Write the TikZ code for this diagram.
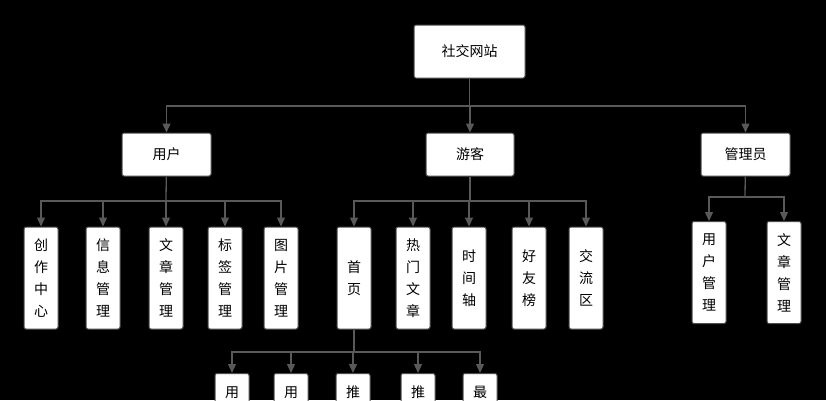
\documentclass[tikz,border=0pt]{standalone}
\usepackage{fontspec}
\setmainfont{Noto Sans CJK SC}
\usetikzlibrary{arrows.meta}
\begin{document}
\begin{tikzpicture}[x=1pt,y=-1pt,>={Triangle[length=9pt,width=8pt]},
    box/.style={draw=black!70,fill=white,rounded corners=2pt,line width=1pt,font=\fontsize{14}{22}\selectfont},
    vbox/.style={box,minimum width=34pt,minimum height=102pt,align=center,inner sep=0pt},
    cutbox/.style={vbox,anchor=north,text height=24pt,text depth=78pt},
    link/.style={draw=black!65,line width=1.3pt}]
    \fill[black] (0,0) rectangle (826,400);
    \clip (0,0) rectangle (826,400);
    % root and second level
    \node[box,minimum width=111pt,minimum height=53pt] (site) at (469.5,51.5) {社交网站};
    \node[box,minimum width=89pt,minimum height=43pt] (user) at (166.5,154.5) {用户};
    \node[box,minimum width=88pt,minimum height=43pt] (guest) at (470,154.5) {游客};
    \node[box,minimum width=89pt,minimum height=43pt] (admin) at (745.5,154.5) {管理员};
    % user children
    \node[vbox] (u1) at (41,278) {创\\作\\中\\心};
    \node[vbox] (u2) at (103,278) {信\\息\\管\\理};
    \node[vbox] (u3) at (166,278) {文\\章\\管\\理};
    \node[vbox] (u4) at (225,278) {标\\签\\管\\理};
    \node[vbox] (u5) at (281,278) {图\\片\\管\\理};
    % guest children
    \node[vbox] (g1) at (354,278) {首\\页};
    \node[vbox] (g2) at (413,278) {热\\门\\文\\章};
    \node[vbox] (g3) at (469,278) {时\\间\\轴};
    \node[vbox] (g4) at (529,278) {好\\友\\榜};
    \node[vbox] (g5) at (586,278) {交\\流\\区};
    % admin children
    \node[vbox] (a1) at (709,272.5) {用\\户\\管\\理};
    \node[vbox] (a2) at (784,272.5) {文\\章\\管\\理};
    % home children (cut off)
    \node[cutbox] (h1) at (232,373) {用};
    \node[cutbox] (h2) at (291,373) {用};
    \node[cutbox] (h3) at (353,373) {推};
    \node[cutbox] (h4) at (418,373) {推};
    \node[cutbox] (h5) at (480,373) {最};
    \coordinate (j0) at (469.5,106);
    \coordinate (j1) at (166,201);
    \coordinate (j2) at (470,201);
    \coordinate (j3) at (745,197);
    \coordinate (j4) at (354,352);
    \draw[link] (site) -- (j0);
    \foreach \n in {user,guest,admin} \draw[link,->] (j0) -| (\n);
    \draw[link] (user) -- (j1);
    \foreach \n in {u1,u2,u3,u4,u5} \draw[link,->] (j1) -| (\n);
    \draw[link] (guest) -- (j2);
    \foreach \n in {g1,g2,g3,g4,g5} \draw[link,->] (j2) -| (\n);
    \draw[link] (admin) -- (j3);
    \foreach \n in {a1,a2} \draw[link,->] (j3) -| (\n);
    \draw[link] (g1) -- (j4);
    \foreach \n in {h1,h2,h3,h4,h5} \draw[link,->] (j4) -| (\n);
\end{tikzpicture}
\end{document}
